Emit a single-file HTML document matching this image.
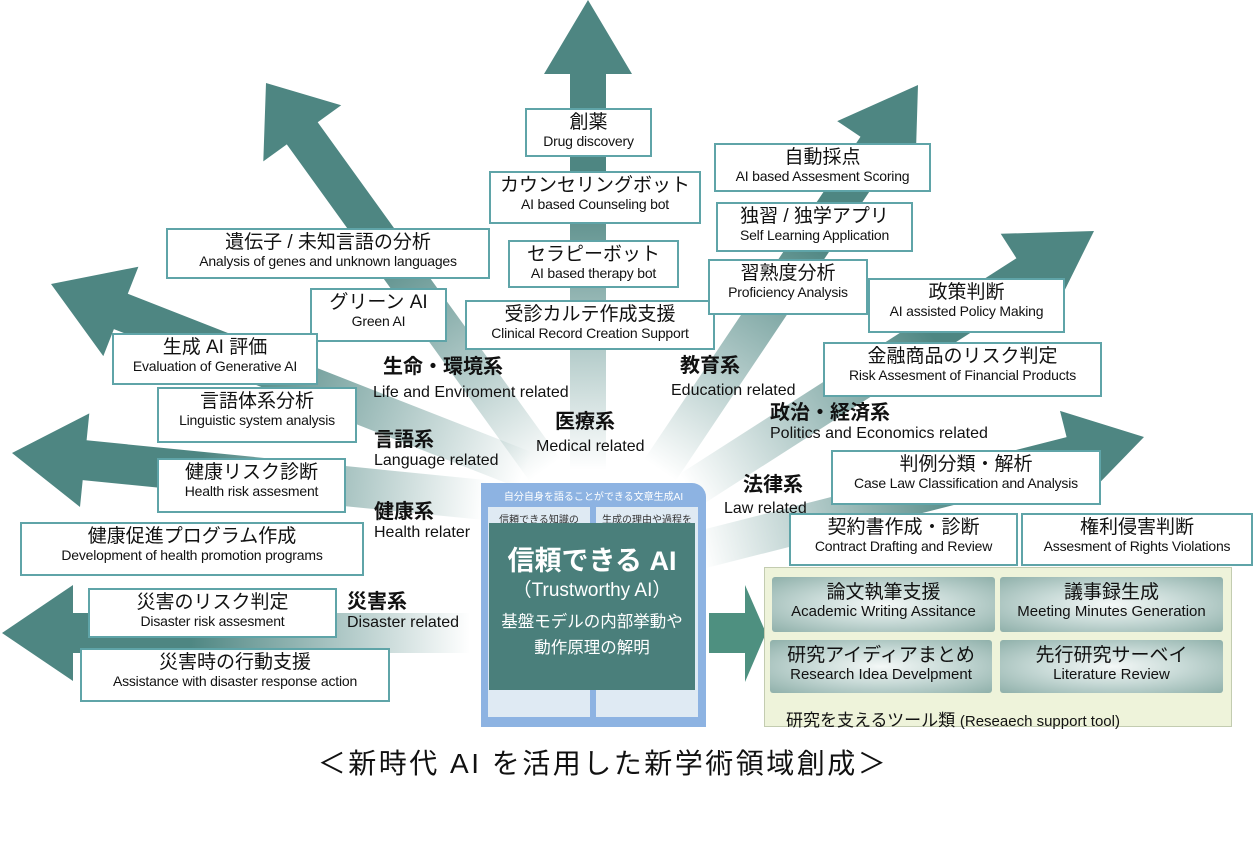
<!DOCTYPE html>
<html><head><meta charset="utf-8">
<style>
body{margin:0;width:1255px;height:854px;background:#fff;position:relative;overflow:hidden;font-family:"Liberation Sans","Noto Sans CJK JP",sans-serif;}
.b{position:absolute;background:#fff;border:2px solid #5fa4a8;box-sizing:border-box;text-align:center;color:#111;line-height:1.1;}
.b .j{font-size:19px;display:block;margin-top:3px;white-space:nowrap}
.b .e{font-size:14px;display:block;white-space:nowrap;letter-spacing:-0.2px}
.c{position:absolute;color:#111;white-space:nowrap;line-height:1}
.c .j{font-size:20px;font-weight:bold;display:block}
.c .e{font-size:16px;display:block;margin-top:3px}
.t{position:absolute;background:radial-gradient(ellipse at center,#f4f8f7 0%,#c8dad7 45%,#8fb0aa 100%);border-radius:3px;text-align:center;line-height:1.1;color:#111}
.t .j{font-size:19px;display:block;margin-top:6px}
.t .e{font-size:15px;display:block}
</style></head><body>
<svg id="s" width="1255" height="854" style="position:absolute;left:0;top:0">
<defs id="d"></defs>
<g id="g"></g>
<polygon points="709,613 745,613 745,585 766,633 745,682 745,653 709,653" fill="#4e9080"/>
</svg>

<div style="position:absolute;left:481px;top:483px;width:225px;height:244px;background:#8db3e2;border-radius:0 14px 0 0"></div>
<div style="position:absolute;left:481px;top:488px;width:225px;text-align:center;color:#fff;font-size:10px">自分自身を語ることができる文章生成AI</div>
<div style="position:absolute;left:488px;top:507px;width:102px;height:210px;background:#dfeaf3"></div>
<div style="position:absolute;left:596px;top:507px;width:102px;height:210px;background:#dfeaf3"></div>
<div style="position:absolute;left:490px;top:511px;width:98px;text-align:center;font-size:10px;color:#333">信頼できる知識の</div>
<div style="position:absolute;left:598px;top:511px;width:98px;text-align:center;font-size:10px;color:#333">生成の理由や過程を</div>
<div style="position:absolute;left:489px;top:523px;width:206px;height:167px;background:#4a7f7b;color:#fff;text-align:center">
<div style="font-size:27px;font-weight:bold;margin-top:25px;line-height:1">信頼できる AI</div>
<div style="font-size:19px;margin-top:6px;line-height:1">（Trustworthy AI）</div>
<div style="font-size:16.5px;margin-top:14px;line-height:1;white-space:nowrap;margin-left:-10px;margin-right:-10px">基盤モデルの内部挙動や</div>
<div style="font-size:16.5px;margin-top:9px;line-height:1">動作原理の解明</div>
</div>

<div class="b" style="left:525px;top:108px;width:127px;height:49px"><span class="j">創薬</span><span class="e">Drug discovery</span></div>
<div class="b" style="left:489px;top:171px;width:212px;height:53px"><span class="j">カウンセリングボット</span><span class="e">AI based Counseling bot</span></div>
<div class="b" style="left:508px;top:240px;width:171px;height:48px"><span class="j">セラピーボット</span><span class="e">AI based therapy bot</span></div>
<div class="b" style="left:465px;top:300px;width:250px;height:50px"><span class="j">受診カルテ作成支援</span><span class="e">Clinical Record Creation Support</span></div>
<div class="b" style="left:166px;top:228px;width:324px;height:51px"><span class="j">遺伝子 / 未知言語の分析</span><span class="e">Analysis of genes and unknown languages</span></div>
<div class="b" style="left:310px;top:288px;width:137px;height:54px"><span class="j">グリーン AI</span><span class="e">Green AI</span></div>
<div class="b" style="left:112px;top:333px;width:206px;height:52px"><span class="j">生成 AI 評価</span><span class="e">Evaluation of Generative AI</span></div>
<div class="b" style="left:157px;top:387px;width:200px;height:56px"><span class="j">言語体系分析</span><span class="e">Linguistic system analysis</span></div>
<div class="b" style="left:157px;top:458px;width:189px;height:55px"><span class="j">健康リスク診断</span><span class="e">Health risk assesment</span></div>
<div class="b" style="left:20px;top:522px;width:344px;height:54px"><span class="j">健康促進プログラム作成</span><span class="e">Development of health promotion programs</span></div>
<div class="b" style="left:88px;top:588px;width:249px;height:50px"><span class="j">災害のリスク判定</span><span class="e">Disaster risk assesment</span></div>
<div class="b" style="left:80px;top:648px;width:310px;height:54px"><span class="j">災害時の行動支援</span><span class="e">Assistance with disaster response action</span></div>
<div class="b" style="left:714px;top:143px;width:217px;height:49px"><span class="j">自動採点</span><span class="e">AI based Assesment Scoring</span></div>
<div class="b" style="left:716px;top:202px;width:197px;height:50px"><span class="j">独習 / 独学アプリ</span><span class="e">Self Learning Application</span></div>
<div class="b" style="left:708px;top:259px;width:160px;height:56px"><span class="j">習熟度分析</span><span class="e">Proficiency Analysis</span></div>
<div class="b" style="left:868px;top:278px;width:197px;height:55px"><span class="j">政策判断</span><span class="e">AI assisted Policy Making</span></div>
<div class="b" style="left:823px;top:342px;width:279px;height:55px"><span class="j">金融商品のリスク判定</span><span class="e">Risk Assesment of Financial Products</span></div>
<div class="b" style="left:831px;top:450px;width:270px;height:55px"><span class="j">判例分類・解析</span><span class="e">Case Law Classification and Analysis</span></div>
<div class="b" style="left:789px;top:513px;width:229px;height:53px"><span class="j">契約書作成・診断</span><span class="e">Contract Drafting and Review</span></div>
<div class="b" style="left:1021px;top:513px;width:232px;height:53px"><span class="j">権利侵害判断</span><span class="e">Assesment of Rights Violations</span></div>

<div class="c" style="left:383px;top:357px"><span class="j">生命・環境系</span></div>
<div class="c" style="left:373px;top:382px"><span class="e">Life and Enviroment related</span></div>
<div class="c" style="left:374px;top:430px"><span class="j">言語系</span><span class="e">Language related</span></div>
<div class="c" style="left:555px;top:412px"><span class="j">医療系</span></div>
<div class="c" style="left:536px;top:436px"><span class="e">Medical related</span></div>
<div class="c" style="left:680px;top:356px"><span class="j">教育系</span></div>
<div class="c" style="left:671px;top:380px"><span class="e">Education related</span></div>
<div class="c" style="left:770px;top:403px"><span class="j">政治・経済系</span><span class="e">Politics and Economics related</span></div>
<div class="c" style="left:743px;top:475px"><span class="j">法律系</span></div>
<div class="c" style="left:724px;top:498px"><span class="e">Law related</span></div>
<div class="c" style="left:374px;top:502px"><span class="j">健康系</span><span class="e">Health relater</span></div>
<div class="c" style="left:347px;top:592px"><span class="j">災害系</span><span class="e">Disaster related</span></div>

<div style="position:absolute;left:764px;top:567px;width:468px;height:160px;background:#eef3da;border:1px solid #c3ccb0;box-sizing:border-box"></div>
<div class="t" style="left:772px;top:577px;width:223px;height:55px"><span class="j">論文執筆支援</span><span class="e">Academic Writing Assitance</span></div>
<div class="t" style="left:1000px;top:577px;width:223px;height:55px"><span class="j">議事録生成</span><span class="e">Meeting Minutes Generation</span></div>
<div class="t" style="left:770px;top:640px;width:222px;height:53px"><span class="j">研究アイディアまとめ</span><span class="e">Research Idea Develpment</span></div>
<div class="t" style="left:1000px;top:640px;width:223px;height:53px"><span class="j">先行研究サーベイ</span><span class="e">Literature Review</span></div>
<div style="position:absolute;left:786px;top:706px;font-size:17px;color:#111;white-space:nowrap">研究を支えるツール類 <span style="font-size:15px">(Reseaech support tool)</span></div>

<div style="position:absolute;left:0;width:1206px;top:742px;text-align:center;font-size:28px;letter-spacing:2.5px;color:#111;white-space:nowrap">＜新時代 AI を活用した新学術領域創成＞</div>

<script>
var A=[
[[588,470],[588,0],18,44,74],
[[545,470],[266,83],19,48,62],
[[525,470],[51,284],19,48,75],
[[485,500],[12,453],20,47,73],
[[470,633],[2,633],20,48,71],
[[660,470],[918,85],19,47,75],
[[690,490],[1094,231],19,48,80],
[[700,550],[1144,437],19,46,75]];
var d=document.getElementById('d'),g=document.getElementById('g'),h='',gs='';
A.forEach(function(a,i){var B=a[0],T=a[1],w=a[2],hw=a[3],L=a[4];
var dx=T[0]-B[0],dy=T[1]-B[1],len=Math.hypot(dx,dy),ux=dx/len,uy=dy/len,px=-uy,py=ux;
var N=[T[0]-ux*L,T[1]-uy*L];
function p(x,y){return x.toFixed(1)+','+y.toFixed(1)}
var pts=[p(B[0]+px*w,B[1]+py*w),p(N[0]+px*w,N[1]+py*w),p(N[0]+px*hw,N[1]+py*hw),p(T[0],T[1]),p(N[0]-px*hw,N[1]-py*hw),p(N[0]-px*w,N[1]-py*w),p(B[0]-px*w,B[1]-py*w)].join(' ');
var M=[B[0]+dx*0.6,B[1]+dy*0.6];
gs+='<linearGradient id="gr'+i+'" gradientUnits="userSpaceOnUse" x1="'+B[0]+'" y1="'+B[1]+'" x2="'+M[0]+'" y2="'+M[1]+'"><stop offset="0" stop-color="#4e8682" stop-opacity="0"/><stop offset="1" stop-color="#4e8682"/></linearGradient>';
h+='<polygon points="'+pts+'" fill="url(#gr'+i+')"/>';});
d.innerHTML=gs;g.innerHTML=h;
</script>
</body></html>
